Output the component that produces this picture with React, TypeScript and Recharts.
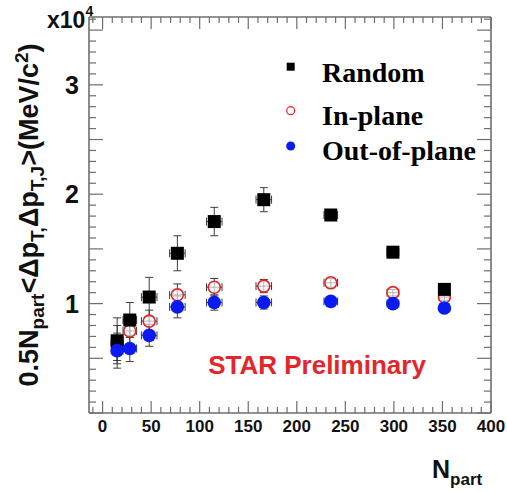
import React from 'react';
import { ScatterChart, Scatter, XAxis, YAxis, ErrorBar, Customized } from 'recharts';

// N_part of each centrality bin
const NPART = [15, 28, 48, 77, 115, 166, 235, 299, 352];
const NPART_ERR = [6, 7, 8, 8, 8, 8, 7, 6, 5];
// values in units of 10^4 (MeV/c^2)
const RANDOM = [0.66, 0.85, 1.06, 1.46, 1.75, 1.95, 1.81, 1.47, 1.13];
const RANDOM_ERR = [0.21, 0.16, 0.18, 0.16, 0.13, 0.11, 0.04, 0.04, 0.04];
const INPLANE = [0.64, 0.75, 0.84, 1.08, 1.15, 1.16, 1.19, 1.1, 1.06];
const INPLANE_ERR = [0.16, 0.13, 0.1, 0.1, 0.08, 0.06, 0.04, 0.03, 0.03];
const OUTPLANE = [0.57, 0.59, 0.71, 0.97, 1.01, 1.01, 1.02, 1.0, 0.96];
const OUTPLANE_ERR = [0.16, 0.12, 0.1, 0.1, 0.07, 0.06, 0.04, 0.03, 0.03];

const X_LABELS = [0, 50, 100, 150, 200, 250, 300, 350, 400];
const Y_LABELS = [1, 2, 3];
const X_DOMAIN: [number, number] = [-14, 400];
const Y_DOMAIN: [number, number] = [0, 3.62];
const X_TICKS = Array.from({ length: 42 }, (_, i) => -10 + i * 10);
const Y_TICKS = Array.from({ length: 37 }, (_, i) => +(i / 10).toFixed(1));

const build = (vals: number[], errs: number[]) =>
  NPART.map((x, i) => ({ x, y: vals[i], ex: NPART_ERR[i], ey: errs[i] }));

const randomData = build(RANDOM, RANDOM_ERR);
const inData = build(INPLANE, INPLANE_ERR);
const outData = build(OUTPLANE, OUTPLANE_ERR);

const AXIS = '#6e6e6e';
const FONT = '"Liberation Sans", Arial, Helvetica, sans-serif';
const SERIF = '"Liberation Serif", "Times New Roman", serif';
const RED = '#e3262c';
const BLUE = '#0a1af2';
const ERR = '#3c3c3c';

const isMajorX = (v: number) => Math.abs(v % 50) < 1e-6;
const isMajorY = (v: number) => Math.abs(Math.round(v * 10) % 5) === 0;

const BottomTick = (p: any) => {
  const v = p.payload.value;
  const major = isMajorX(v);
  return (
    <g>
      <line x1={p.x} x2={p.x} y1={p.y} y2={p.y - (major ? 12 : 6)} stroke={AXIS} strokeWidth={1.2} />
      {X_LABELS.includes(v) && (
        <text x={p.x} y={p.y + 13} textAnchor="middle" dominantBaseline="central" fontFamily={FONT} fontSize={17} fontWeight="bold" fill="#111">
          {v}
        </text>
      )}
    </g>
  );
};
const TopTick = (p: any) => {
  const v = p.payload.value;
  const major = isMajorX(v);
  return <line x1={p.x} x2={p.x} y1={p.y} y2={p.y + (major ? 12 : 6)} stroke={AXIS} strokeWidth={1.2} />;
};
const LeftTick = (p: any) => {
  const v = p.payload.value;
  const major = isMajorY(v);
  return (
    <g>
      <line x1={p.x} x2={p.x + (major ? 14 : 7)} y1={p.y} y2={p.y} stroke={AXIS} strokeWidth={1.2} />
      {Y_LABELS.includes(v) && (
        <text x={p.x - 17} y={p.y} textAnchor="middle" dominantBaseline="central" fontFamily={FONT} fontSize={25} fontWeight="bold" fill="#111">
          {v}
        </text>
      )}
    </g>
  );
};
const RightTick = (p: any) => {
  const v = p.payload.value;
  const major = isMajorY(v);
  return <line x1={p.x} x2={p.x - (major ? 14 : 7)} y1={p.y} y2={p.y} stroke={AXIS} strokeWidth={1.2} />;
};

const SquareShape = (p: any) => <rect x={p.cx - 6.5} y={p.cy - 6.5} width={13} height={13} fill="#000" />;
const OpenCircle = (p: any) => <circle cx={p.cx} cy={p.cy} r={6} fill="#fff" fillOpacity={0.6} stroke={RED} strokeWidth={1.6} />;
const FilledCircle = (p: any) => <circle cx={p.cx} cy={p.cy} r={6.8} fill={BLUE} />;
const NoShape = () => <g />;

const Overlay = () => (
  <g>
    {/* y axis title */}
    <g transform="translate(38,215) rotate(-90)">
      <text x={0} y={0} textAnchor="middle" fontFamily={FONT} fontSize={27} fontWeight="bold" fill="#111">
        0.5N
        <tspan fontSize={19} dy={6}>part</tspan>
        <tspan dy={-6}>{'<Δp'}</tspan>
        <tspan fontSize={19} dy={6}>T,</tspan>
        <tspan dy={-6}>Δp</tspan>
        <tspan fontSize={19} dy={6}>T,J</tspan>
        <tspan dy={-6}>{'>(MeV/c'}</tspan>
        <tspan fontSize={19} dy={-10}>2</tspan>
        <tspan dy={10}>)</tspan>
      </text>
    </g>
    {/* x10^4 */}
    <text x={47} y={28} fontFamily={FONT} fontSize={23} fontWeight="bold" fill="#111">
      x10
      <tspan fontSize={14} dy={-12}>4</tspan>
    </text>
    {/* x axis title */}
    <text x={432} y={478} fontFamily={FONT} fontSize={25} fontWeight="bold" fill="#111">
      N
      <tspan fontSize={17} dy={7}>part</tspan>
    </text>
    {/* legend */}
    <rect x={286.7} y={62.7} width={8} height={8} fill="#000" />
    <text x={322} y={72} dominantBaseline="central" fontFamily={SERIF} fontSize={28} fontWeight="bold" fill="#000">Random</text>
    <circle cx={290.7} cy={110.7} r={4} fill="none" stroke={RED} strokeWidth={1.2} />
    <text x={322} y={115} dominantBaseline="central" fontFamily={SERIF} fontSize={28} fontWeight="bold" fill="#000">In-plane</text>
    <circle cx={290.7} cy={146} r={4.5} fill={BLUE} />
    <text x={322} y={150} dominantBaseline="central" fontFamily={SERIF} fontSize={28} fontWeight="bold" fill="#000">Out-of-plane</text>
    {/* STAR Preliminary */}
    <text x={317} y={365} textAnchor="middle" dominantBaseline="central" fontFamily={FONT} fontSize={26} fontWeight="bold" fill={RED}>
      STAR Preliminary
    </text>
  </g>
);

export default function App() {
  return (
    <div style={{ position: 'fixed', left: 0, top: 0, width: 507, height: 492, overflow: 'hidden', background: '#fff' }}>
      <ScatterChart width={507} height={492} margin={{ top: 16, right: 15, left: 0, bottom: 0 }}>
        <XAxis
          xAxisId={0}
          type="number"
          dataKey="x"
          domain={X_DOMAIN}
          allowDataOverflow
          ticks={X_TICKS}
          interval={0}
          tickSize={0}
          tickMargin={0}
          tickLine={false}
          tick={BottomTick}
          height={79}
          axisLine={{ stroke: AXIS, strokeWidth: 1.6 }}
        />
        <XAxis
          xAxisId="top"
          orientation="top"
          type="number"
          dataKey="x"
          domain={X_DOMAIN}
          allowDataOverflow
          ticks={X_TICKS}
          interval={0}
          tickSize={0}
          tickMargin={0}
          tickLine={false}
          tick={TopTick}
          height={1}
          axisLine={{ stroke: AXIS, strokeWidth: 1.6 }}
        />
        <YAxis
          yAxisId={0}
          type="number"
          dataKey="y"
          domain={Y_DOMAIN}
          allowDataOverflow
          ticks={Y_TICKS}
          interval={0}
          tickSize={0}
          tickMargin={0}
          tickLine={false}
          tick={LeftTick}
          width={89}
          axisLine={{ stroke: AXIS, strokeWidth: 1.6 }}
        />
        <YAxis
          yAxisId="right"
          orientation="right"
          type="number"
          dataKey="y"
          domain={Y_DOMAIN}
          allowDataOverflow
          ticks={Y_TICKS}
          interval={0}
          tickSize={0}
          tickMargin={0}
          tickLine={false}
          tick={RightTick}
          width={1}
          axisLine={{ stroke: AXIS, strokeWidth: 1.6 }}
        />
        <Scatter data={outData} xAxisId="top" yAxisId="right" shape={NoShape} legendType="none" isAnimationActive={false} />
        <Scatter data={inData} shape={OpenCircle} isAnimationActive={false}>
          <ErrorBar dataKey="ey" direction="y" width={4} stroke={ERR} strokeWidth={1} />
          <ErrorBar dataKey="ex" direction="x" width={4} stroke={ERR} strokeWidth={1} />
        </Scatter>
        <Scatter data={randomData} shape={SquareShape} isAnimationActive={false}>
          <ErrorBar dataKey="ey" direction="y" width={4} stroke={ERR} strokeWidth={1} />
          <ErrorBar dataKey="ex" direction="x" width={4} stroke={ERR} strokeWidth={1} />
        </Scatter>
        <Scatter data={outData} shape={FilledCircle} isAnimationActive={false}>
          <ErrorBar dataKey="ey" direction="y" width={4} stroke={ERR} strokeWidth={1} />
          <ErrorBar dataKey="ex" direction="x" width={4} stroke={ERR} strokeWidth={1} />
        </Scatter>
        <Customized component={<Overlay />} />
      </ScatterChart>
    </div>
  );
}
